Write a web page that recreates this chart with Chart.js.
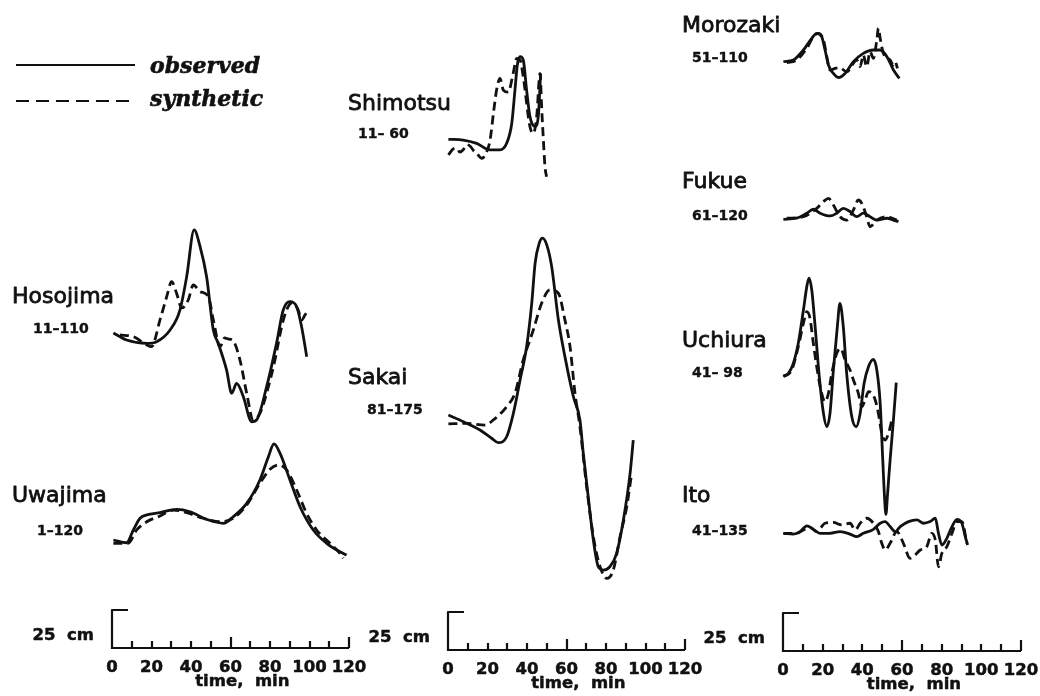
<!DOCTYPE html>
<html>
<head>
<meta charset="utf-8">
<script src="https://cdn.jsdelivr.net/npm/chart.js@4"></script>
<style>
  html, body { margin: 0; padding: 0; background: #fff; }
  #wrap { position: relative; width: 1040px; height: 696px; overflow: hidden; }
  #wrap canvas { position: absolute; left: 0; top: 0; }
</style>
</head>
<body>
<div id="wrap">
  <canvas id="col0" width="1040" height="696"></canvas>
  <canvas id="col1" width="1040" height="696"></canvas>
  <canvas id="col2" width="1040" height="696"></canvas>
</div>
<script>
// tide gauge records, [time in min, height in cm]
const hosojimaObs = [[0.7,0],[7.4,-4.6],[17.6,-6.8],[22.6,-5.7],[29.4,2.0],[34.4,15.1],[37.8,37],[41.6,67.8],[44.6,56.8],[47.9,37],[51.3,2],[53.8,-6.8],[58,-24.3],[60.6,-39.7],[63.1,-33.1],[66.5,-41.9],[70.7,-58.4],[73.2,-57.2],[78.3,-35.3],[83.3,-6.8],[86.7,15.1],[90.1,20.6],[93.5,17.3],[96,4.1],[98.6,-15.6]];
const hosojimaSyn = [[4,-1.3],[10.8,-2.4],[17.6,-7.9],[20,-9.0],[24.3,8.6],[27.7,23.9],[30.2,33.8],[32.7,26.1],[35.3,16.5],[38.6,21.7],[41.2,31.6],[44.6,27.2],[48.8,23.9],[51.3,8.6],[54.7,-9.0],[57,-3.3],[59,-4],[61,-4.6],[64.8,-17.8],[68.2,-39.7],[71.5,-57.2],[75,-52.6],[78.3,-39.5],[82.5,-17.8],[85.9,4.1],[88.4,15.1],[91,19.7],[94.3,15.1],[96,8.6],[97.7,11.8],[99.4,15.1]];

const uwajimaObs = [[0.7,0],[7.4,-1.8],[10.8,6.6],[14.2,14.3],[17.6,16.5],[24.3,18.0],[32.7,20.2],[39.5,18.6],[47.9,13.6],[56.4,11.0],[61.4,15.3],[68.2,24.1],[74.9,39.5],[79.2,54.8],[82.0,63.2],[85.1,57.0],[90.1,39.5],[95.2,21.9],[101.9,6.6],[108.7,-2.2],[113.8,-6.6],[118.8,-9.9]];
const uwajimaSyn = [[0.7,-2.2],[8.1,-2.2],[12.5,6.6],[17.6,12.0],[24.3,15.8],[31,19.7],[37.8,18.0],[46.2,14.3],[54.7,12.0],[61.4,14.3],[68.2,23.0],[74.9,37.3],[80,46.5],[84.2,49.4],[88.4,46.1],[93.5,32.9],[98.5,17.6],[103.6,6.6],[110.4,-2.2],[115.4,-8.8],[117.1,-12.0]];

const shimotsuObs = [[0.2,0],[7.7,-0.5],[14.5,-2.7],[21.3,-7.0],[26.3,-7.0],[29.7,-2.6],[32.3,10.6],[33.9,32.4],[35.1,48.9],[36.5,54.4],[38.1,52.2],[39.8,32.4],[41.5,14.9],[44.1,8.4],[45.7,14.9],[46.9,43.4]];
const shimotsuSyn = [[0.2,-10.3],[2.5,-6.5],[4.4,-5.9],[6,-8.5],[7.6,-7.0],[9.5,-3.5],[11.1,-4.4],[13,-7.5],[14.5,-9.2],[17.1,-12.5],[19.6,-8.2],[21.3,-0.5],[23,17.1],[24.6,32.4],[26.3,40.1],[28,32.4],[30.5,31],[33,43.4],[34.8,53.3],[36.5,52.2],[38.1,41.2],[41.5,8.3],[43.2,3.9],[44.9,14.9],[46.6,43.4],[47.4,21.5],[48.3,-0.5],[49.1,-18.0],[49.9,-24.6]];

const sakaiObs = [[0.2,0],[7.8,-4.4],[16.2,-9.9],[22.1,-15.3],[25.5,-18.2],[29.7,-14.3],[33.1,1.1],[36.5,23.0],[39.8,44.9],[42.4,73.5],[44.1,99.8],[46.2,113],[47.9,116.3],[50,111.9],[52.5,97.6],[55.9,62.5],[59.2,38.4],[63.5,12.0],[66.8,-3.3],[68.5,-25.2],[71,-53.8],[73.6,-82.3],[76.1,-99.8],[78.6,-102],[82,-99.8],[85.4,-91],[88.8,-69.1],[92.2,-38.4],[93.8,-16.5]];
const sakaiSyn = [[0.2,-5.9],[9.5,-5.5],[18.7,-6.6],[22.9,-3.3],[29.7,5.5],[33.9,14.3],[38.1,36.2],[43.2,55.9],[47.4,73.5],[51.6,82.3],[55.9,80.1],[59.2,62.5],[61.8,44.9],[64.3,14.3],[66.8,-7.7],[70.2,-47.2],[73.6,-80.1],[77,-99.8],[80.4,-107.5],[83.7,-102],[87.1,-80.1],[90.5,-60.3],[93,-38.4]];

const morozakiObs = [[0.2,0],[5.2,1.1],[10.3,7.7],[14.5,15.4],[17,18.7],[19.5,16.5],[21.2,7.7],[22.9,-2.2],[25.4,-7.7],[27.9,-10.4],[31.3,-7.7],[35.5,0],[40.5,5.5],[45.6,7.7],[49,7.7],[52.4,3.3],[55.7,-5.5],[58.7,-11.0]];
const morozakiSyn = [[1.9,-0.7],[6.9,1.1],[12,8.8],[15.3,16.5],[17.8,18.7],[20.4,14.3],[22.1,3.3],[23.7,-5.5],[26.3,-4.4],[28.5,-4],[32.2,-6.6],[37.2,1.1],[38.9,-3.3],[40.5,4.4],[42.2,-3.3],[43.9,6.6],[45.6,2.2],[47.3,14.3],[48.1,22.0],[49,15.4],[50.6,5.5],[54,1.1],[55.7,-2.2],[56.6,0],[57.7,-4.4]];

const fukueObs = [[0.2,0],[6.9,0.7],[12,4.0],[15.3,6.6],[18.7,4.0],[23.7,2.2],[27.1,4.0],[30.4,7.2],[33.8,5.1],[37.2,1.7],[40.5,4.0],[43.9,1.7],[47.3,-0.5],[52.4,0.7],[55.7,-0.5],[58.2,-1.6]];
const fukueSyn = [[1.9,0.7],[10.3,1.7],[17,7.2],[20.4,11.6],[22.9,13.8],[25.4,9.4],[28.8,1.7],[32.2,-0.5],[35.5,6.1],[38,12.7],[39.7,10.5],[42.2,1.7],[43.9,-4.9],[47.3,-0.5],[52.4,1.7],[57.4,-0.5]];

const uchiuraObs = [[0.2,0],[2.7,1.8],[5.2,8.3],[7.7,21.5],[10.3,43.4],[12,58.8],[13.1,64.3],[14.5,56.6],[16.2,32.5],[18.3,-0.5],[20.4,-24.6],[22.1,-33.4],[23.7,-24.6],[25.4,3.9],[27.4,32.5],[28.7,47.8],[30.4,32.5],[32.1,1.8],[34.7,-26.8],[36.9,-33.4],[38.9,-24.6],[40.9,-4.8],[43.1,6.1],[45.6,10.9],[47.3,3.9],[49,-18.0],[50.3,-55.3],[51.2,-80],[51.9,-91],[52.7,-78],[54,-55.3],[55.7,-28.5],[57.1,-4.4]];
const uchiuraSyn = [[0.2,-0.5],[4.4,3.9],[7.7,19.3],[10.3,34.7],[12,42.3],[13.6,38.0],[15.3,21.5],[17,6.1],[19.5,-11.4],[21.2,-17.0],[22.9,-11.4],[24.6,1.8],[27.1,14.9],[29.1,18.2],[31.3,10.5],[33.8,3.9],[35.5,-2.6],[38,-11.4],[39.7,-20.2],[41.4,-15.8],[43.1,-10.3],[44.8,-11.4],[46.5,-15.8],[48.1,-24.6],[49.8,-37.7],[51.5,-42.1],[53.2,-37.7],[54.9,-28.9]];

const itoObs = [[0.2,0],[5.2,-0.5],[8.6,1.1],[12,4.9],[15.3,2.6],[18.7,0],[23.7,0],[28.8,1.1],[33.8,-0.5],[37.2,-2.2],[40.5,0],[45.6,2.6],[49,6.6],[51.5,7.7],[54,4.4],[56.6,1.1],[59.1,4.4],[63.3,7.7],[67.5,8.8],[70.9,6.6],[74.2,7.7],[76.8,9.9],[78.4,0],[80.1,-7.7],[82.6,-3.3],[85.2,4.4],[87.7,9.2],[90.2,6.6],[91.9,-2.2],[93.1,-7.7]];
const itoSyn = [[0.2,0],[6.9,0],[10.3,2.2],[13.6,3.9],[17,1.1],[21.2,6.6],[25.4,7.2],[29.6,5.5],[33.8,6.6],[36.4,2.2],[38.9,6.6],[42.2,9.9],[45.6,6.6],[48.1,1.1],[49.8,-6.6],[51.5,-11.0],[54,-6.6],[57.4,1.1],[60.7,-6.6],[64.1,-16.5],[66.6,-14.3],[69.2,-11.0],[72.5,-8.8],[75,0],[76.8,-4.4],[78.4,-22.0],[80.1,-13.2],[82.6,-8.8],[85.2,0],[87.7,7.7],[90.2,7.7],[92.7,-6.6]];

const stationNames = ['Hosojima', 'Uwajima', 'Shimotsu', 'Sakai', 'Morozaki', 'Fukue', 'Uchiura', 'Ito'];
const stationRanges = ['11–110', '1–120', '11– 60', '81–175', '51–110', '61–120', '41– 98', '41–135'];
const tickValues = [0, 20, 40, 60, 80, 100, 120];
const tickLabels = ['0', '20', '40', '60', '80', '100', '120'];
const scaleBarCm = 25;

// page layout (pixels)
const columns = [
    { x0: 112, x120: 349, axisY: 648 },
    { x0: 448, x120: 685, axisY: 650 },
    { x0: 783, x120: 1021, axisY: 651 }
];
const PX_PER_CM = 38 / 25;

const stations = [
    { obs: hosojimaObs, syn: hosojimaSyn, col: 0, baseY: 333, nameXY: [12, 303], rangeXY: [33, 333] },
    { obs: uwajimaObs, syn: uwajimaSyn, col: 0, baseY: 540, nameXY: [12, 502], rangeXY: [37, 535] },
    { obs: shimotsuObs, syn: shimotsuSyn, col: 1, baseY: 139.3, nameXY: [348, 110], rangeXY: [358, 138] },
    { obs: sakaiObs, syn: sakaiSyn, col: 1, baseY: 415, nameXY: [348, 384], rangeXY: [367, 414] },
    { obs: morozakiObs, syn: morozakiSyn, col: 2, baseY: 61.7, nameXY: [682, 32], rangeXY: [692, 62] },
    { obs: fukueObs, syn: fukueSyn, col: 2, baseY: 219.3, nameXY: [682, 188], rangeXY: [692, 220] },
    { obs: uchiuraObs, syn: uchiuraSyn, col: 2, baseY: 376, nameXY: [682, 347], rangeXY: [692, 377] },
    { obs: itoObs, syn: itoSyn, col: 2, baseY: 533.3, nameXY: [682, 502], rangeXY: [692, 535] }
];

const INK = '#111';

// heavier plotter-like lettering
function inkText(ctx, text, x, y, weight) {
    ctx.fillText(text, x, y);
    ctx.lineWidth = weight;
    ctx.strokeText(text, x, y);
}

function drawColumnFurniture(chart, colIndex) {
    const ctx = chart.ctx;
    const xs = chart.scales.x;
    const ys = chart.scales.y;
    const col = columns[colIndex];
    const axisY = col.axisY;
    ctx.save();
    ctx.strokeStyle = INK;
    ctx.fillStyle = INK;
    ctx.lineWidth = 2.2;
    ctx.lineCap = 'butt';
    ctx.lineJoin = 'round';

    // time axis with inward ticks
    ctx.beginPath();
    ctx.moveTo(xs.getPixelForValue(0), axisY);
    ctx.lineTo(xs.getPixelForValue(120), axisY);
    for (let t = 10; t <= 120; t += 10) {
        const len = (t === 60 || t === 120) ? 11 : 7;
        const px = Math.round(xs.getPixelForValue(t));
        ctx.moveTo(px, axisY);
        ctx.lineTo(px, axisY - len);
    }
    // 25 cm scale bracket
    const x0 = xs.getPixelForValue(0);
    const top = ys.getPixelForValue(scaleBarCm);
    ctx.moveTo(x0, axisY + 1);
    ctx.lineTo(x0, top);
    ctx.lineTo(x0 + 16, top);
    ctx.stroke();

    ctx.font = 'bold 16.5px "DejaVu Sans"';
    ctx.textAlign = 'center';
    ctx.textBaseline = 'alphabetic';
    tickValues.forEach((v, i) => {
        inkText(ctx, tickLabels[i], xs.getPixelForValue(v), axisY + 24, 0.5);
    });
    inkText(ctx, 'time,  min', xs.getPixelForValue(66), axisY + 38, 0.5);
    ctx.textAlign = 'right';
    inkText(ctx, '25  cm', x0 - 18, axisY - 8, 0.5);

    // station labels
    ctx.textAlign = 'left';
    stations.forEach((s, i) => {
        if (s.col !== colIndex) return;
        ctx.font = '22px "DejaVu Sans"';
        inkText(ctx, stationNames[i], s.nameXY[0], s.nameXY[1], 0.8);
        ctx.font = 'bold 14px "DejaVu Sans"';
        inkText(ctx, stationRanges[i], s.rangeXY[0], s.rangeXY[1], 0.4);
    });

    // legend
    if (colIndex === 0) {
        ctx.lineWidth = 2;
        ctx.beginPath();
        ctx.moveTo(16, 65);
        ctx.lineTo(135, 65);
        ctx.stroke();
        ctx.setLineDash([13, 7]);
        ctx.beginPath();
        ctx.moveTo(16, 101);
        ctx.lineTo(135, 101);
        ctx.stroke();
        ctx.setLineDash([]);
        ctx.font = 'italic bold 22px "DejaVu Serif"';
        inkText(ctx, 'observed', 150, 73, 0.6);
        inkText(ctx, 'synthetic', 150, 106, 0.6);
    }
    ctx.restore();
}

function makeColumn(colIndex) {
    const col = columns[colIndex];
    const datasets = [];
    stations.forEach((s, i) => {
        if (s.col !== colIndex) return;
        const offset = (col.axisY - s.baseY) / PX_PER_CM;
        datasets.push({
            label: stationNames[i] + ' observed',
            data: s.obs.map(p => ({ x: p[0], y: p[1] + offset })),
            borderColor: INK,
            borderWidth: 2.8,
            pointRadius: 0,
            cubicInterpolationMode: 'monotone',
            fill: false,
            clip: false
        });
        datasets.push({
            label: stationNames[i] + ' synthetic',
            data: s.syn.map(p => ({ x: p[0], y: p[1] + offset })),
            borderColor: INK,
            borderWidth: 2.8,
            borderDash: [9, 5],
            pointRadius: 0,
            cubicInterpolationMode: 'monotone',
            fill: false,
            clip: false
        });
    });

    new Chart(document.getElementById('col' + colIndex), {
        type: 'line',
        data: { datasets: datasets },
        options: {
            responsive: false,
            animation: false,
            events: [],
            layout: {
                padding: { left: col.x0, right: 1040 - col.x120, top: 0, bottom: 696 - col.axisY }
            },
            scales: {
                x: { type: 'linear', min: 0, max: 120, display: false },
                y: { type: 'linear', min: 0, max: col.axisY / PX_PER_CM, display: false }
            },
            plugins: {
                legend: { display: false },
                tooltip: { enabled: false }
            }
        },
        plugins: [{
            id: 'tideFurniture' + colIndex,
            afterDraw: chart => drawColumnFurniture(chart, colIndex)
        }]
    });
}

document.addEventListener('DOMContentLoaded', function() {
    makeColumn(0);
    makeColumn(1);
    makeColumn(2);
});
</script>
</body>
</html>
